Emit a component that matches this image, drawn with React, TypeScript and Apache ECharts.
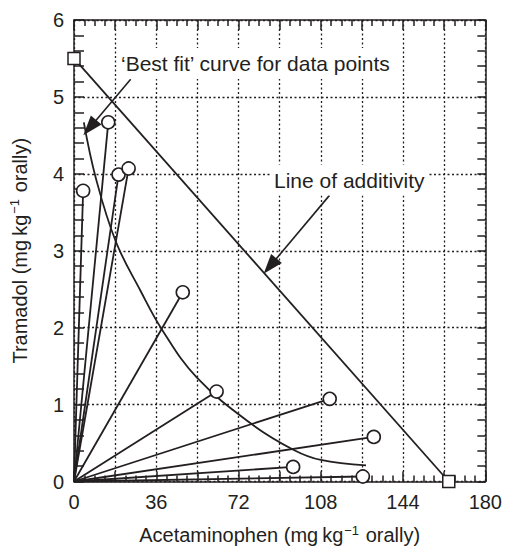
import React, { useEffect, useRef } from 'react';
import * as echarts from 'echarts';

// Data
const acetaminophen = [4.0, 15.0, 19.5, 23.9, 47.6, 62.4, 111.9, 131.2, 95.9, 126.4];
const tramadol = [3.78, 4.67, 3.99, 4.07, 2.46, 1.17, 1.075, 0.58, 0.19, 0.065];
const fitX = [4.3, 9.6, 18.3, 29.1, 38.6, 53.8, 77.6, 96.2, 108, 127.8];
const fitY = [4.67, 3.94, 3.12, 2.48, 1.97, 1.35, 0.75, 0.41, 0.28, 0.21];
const additivityX = [0, 164];
const additivityY = [5.5, 0];
const xLabelStep = 36;
const arrowFit = [[24.8, 5.23], [6.9, 4.6]];
const arrowAdd = [[111.8, 3.72], [85.8, 2.8]];

const INK = '#231f20';
const FONT = '"Liberation Sans", Arial, Helvetica, sans-serif';

export default function App() {
  const ref = useRef<HTMLDivElement>(null);
  useEffect(() => {
    document.body.style.margin = '0';
    if (!ref.current) return;
    const chart = echarts.init(ref.current, undefined, { renderer: 'svg' });
    const line = { color: INK, width: 1.5 };
    const dotted = { color: INK, width: 1.3, type: [2, 2.5] as any };
    const nameStyle = {
      fontSize: 20,
      color: INK,
      fontFamily: FONT,
      rich: {
        sup: { fontSize: 13, color: INK, fontFamily: FONT, verticalAlign: 'top' as any, padding: [0, 1, 10, 1] },
      },
    };
    const rays = acetaminophen.map((x, i) => ({
      type: 'line',
      data: [[0, 0], [x, tramadol[i]]],
      symbol: 'none',
      lineStyle: { color: INK, width: 1.8 },
      z: 2,
      silent: true,
    }));
    chart.setOption({
      animation: false,
      grid: { left: 71, right: 18, top: 20, bottom: 65 },
      xAxis: [
        {
          type: 'value',
          min: 0,
          max: 180,
          interval: 18,
          position: 'bottom',
          axisLine: { show: true, onZero: false, lineStyle: line },
          axisTick: { show: true, inside: true, length: 10, lineStyle: line },
          minorTick: { show: true, splitNumber: 4, length: 6, lineStyle: line },
          axisLabel: {
            formatter: (v: number) => (v % xLabelStep === 0 ? String(v) : ''),
            fontSize: 20,
            color: INK,
            fontFamily: FONT,
            margin: 10,
          },
          splitLine: { show: true, lineStyle: dotted },
          name: 'Acetaminophen (mg\u2009kg{sup|\u22121} orally)',
          nameLocation: 'middle',
          nameGap: 42,
          nameTextStyle: nameStyle,
        },
        {
          type: 'value',
          min: 0,
          max: 180,
          interval: 18,
          position: 'top',
          axisLine: { show: true, onZero: false, lineStyle: line },
          axisTick: { show: true, inside: true, length: 10, lineStyle: line },
          minorTick: { show: true, splitNumber: 4, length: 6, lineStyle: line },
          axisLabel: { show: false },
          splitLine: { show: false },
        },
      ],
      yAxis: [
        {
          type: 'value',
          min: 0,
          max: 6,
          interval: 1,
          position: 'left',
          axisLine: { show: true, onZero: false, lineStyle: line },
          axisTick: { show: true, inside: true, length: 10, lineStyle: line },
          minorTick: { show: true, splitNumber: 5, length: 10, lineStyle: line },
          axisLabel: { fontSize: 20, color: INK, fontFamily: FONT, margin: 10 },
          splitLine: { show: true, lineStyle: dotted },
          name: 'Tramadol (mg\u2009kg{sup|\u22121} orally)',
          nameLocation: 'middle',
          nameRotate: 90,
          nameGap: 43,
          nameTextStyle: nameStyle,
        },
        {
          type: 'value',
          min: 0,
          max: 6,
          interval: 1,
          position: 'right',
          axisLine: { show: true, onZero: false, lineStyle: line },
          axisTick: { show: true, inside: true, length: 8, lineStyle: line },
          minorTick: { show: true, splitNumber: 5, length: 8, lineStyle: line },
          axisLabel: { show: false },
          splitLine: { show: false },
        },
      ],
      graphic: [
        {
          type: 'text',
          x: 118,
          y: 63.5,
          z: 10,
          style: {
            text: '\u2018Best fit\u2019 curve for data points',
            font: `21px ${FONT}`,
            fill: INK,
            verticalAlign: 'middle',
            backgroundColor: '#fff',
            padding: [5, 3],
          },
        },
        {
          type: 'text',
          x: 271,
          y: 180,
          z: 10,
          style: {
            text: 'Line of additivity',
            font: `21px ${FONT}`,
            fill: INK,
            verticalAlign: 'middle',
            backgroundColor: '#fff',
            padding: [5, 3],
          },
        },
      ],
      series: [
        ...rays,
        {
          type: 'line',
          data: fitX.map((x, i) => [x, fitY[i]]),
          smooth: 0.4,
          symbol: 'none',
          lineStyle: { color: INK, width: 1.8 },
          z: 2,
          silent: true,
          markLine: {
            silent: true,
            symbol: ['none', 'triangle'],
            symbolSize: [14, 20],
            label: { show: false },
            lineStyle: { color: INK, width: 1.6, type: 'solid' },
            emphasis: { disabled: true },
            data: [
              [{ coord: arrowFit[0] }, { coord: arrowFit[1] }],
              [{ coord: arrowAdd[0] }, { coord: arrowAdd[1] }],
            ],
          },
        },
        {
          type: 'line',
          data: additivityX.map((x, i) => [x, additivityY[i]]),
          symbol: 'rect',
          symbolSize: 12,
          showAllSymbol: true,
          lineStyle: { color: INK, width: 1.8 },
          itemStyle: { color: '#fff', borderColor: INK, borderWidth: 1.5 },
          z: 3,
          silent: true,
        },
        {
          type: 'scatter',
          data: acetaminophen.map((x, i) => [x, tramadol[i]]),
          symbol: 'circle',
          symbolSize: 13,
          itemStyle: { color: '#fff', borderColor: INK, borderWidth: 1.6, opacity: 1 },
          z: 4,
          silent: true,
        },
      ],
    });
    return () => chart.dispose();
  }, []);
  return <div ref={ref} style={{ width: 505, height: 550 }} />;
}
